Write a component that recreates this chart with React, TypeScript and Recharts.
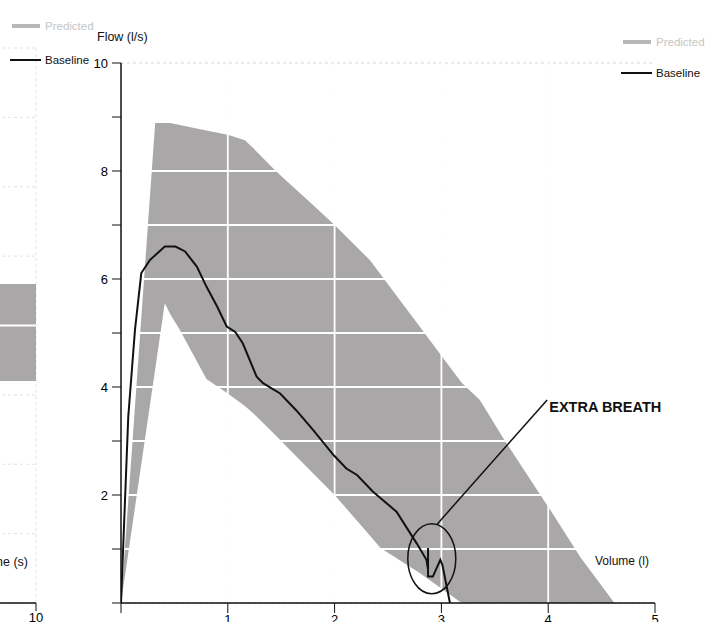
import React from "react";
import {
  ComposedChart,
  Area,
  Line,
  XAxis,
  YAxis,
  CartesianGrid,
  ReferenceLine,
  ReferenceDot,
} from "recharts";

// ─── Data ────────────────────────────────────────────────────────────────────

// predicted flow-volume band (volume in l, flow in l/s)
const bandVolume = [0, 0.32, 0.41, 0.46, 0.55, 0.8, 1.0, 1.16, 1.24, 1.44, 1.52, 1.77, 2.0, 2.33, 2.43, 2.61, 2.8, 3.0, 3.19, 3.36, 3.58, 4.02, 4.3, 4.62];
const bandLow = [0, 4.33, 5.55, 5.35, 5.06, 4.15, 3.88, 3.65, 3.51, 3.12, 2.96, 2.46, 2.0, 1.25, 1.02, 0.79, 0.55, 0.27, 0, 0, 0, 0, 0, 0];
const bandHigh = [0, 8.89, 8.89, 8.89, 8.85, 8.75, 8.67, 8.57, 8.42, 8.02, 7.87, 7.42, 7.0, 6.35, 6.09, 5.61, 5.11, 4.58, 4.08, 3.76, 3.05, 1.72, 0.85, 0];

// baseline loop
const baseVolume = [0, 0.068, 0.131, 0.19, 0.27, 0.41, 0.51, 0.6, 0.71, 0.8, 0.9, 0.99, 1.07, 1.14, 1.27, 1.33, 1.49, 1.64, 1.8, 1.99, 2.11, 2.21, 2.36, 2.58, 2.67, 2.77, 2.86, 2.875, 2.875, 2.875, 2.92, 2.99, 3.01, 3.08];
const baseFlow = [0, 3.45, 5.06, 6.11, 6.35, 6.6, 6.6, 6.51, 6.23, 5.86, 5.49, 5.12, 5.02, 4.81, 4.19, 4.07, 3.88, 3.57, 3.2, 2.74, 2.49, 2.37, 2.06, 1.69, 1.41, 1.1, 0.8, 0.62, 1.02, 0.49, 0.49, 0.8, 0.7, 0];

const flowTicks = [0, 1, 2, 3, 4, 5, 6, 7, 8, 9, 10];
const volumeTicks = [0, 1, 2, 3, 4, 5];
const gridVolume = [1, 2, 3, 4];
const innerFlowLines = [1, 2, 3, 4, 5, 6, 7, 8, 9];
const innerVolumeLines = [1, 2, 3, 4];

// annotation ("extra breath")
const breathCircle = { v: 2.91, f: 0.82 };
const pointerFrom = { v: 2.96, f: 1.46 };
const pointerTo = { v: 3.99, f: 3.76 };
const noteAt = { v: 4.01, f: 3.64 };

// neighbouring time chart (only its right edge is on the page)
const timeTicks = [0, 2, 4, 6, 8, 10];
const timeGridTicks = [0, 1, 2, 3, 4, 5, 6, 7, 8];
const timePredTime = [6, 10];
const timePredLow = [3.2, 3.2];
const timePredHigh = [4.6, 4.6];

// ─── Styling ─────────────────────────────────────────────────────────────────

const FONT = '"Liberation Sans", Arial, sans-serif';
const BAND = "#aaa7a8";
const INK = "#111";
const GRID = "#d6d6d6";

const band = bandVolume.map((v, i) => ({ v, range: [bandLow[i], bandHigh[i]] }));
const baseline = baseVolume.map((v, i) => ({ v, f: baseFlow[i] }));
const timePred = timePredTime.map((t, i) => ({ t, range: [timePredLow[i], timePredHigh[i]] }));

const tickStyle = { fill: "#000", fontSize: 13, fontFamily: FONT };

function Legend({ left, top, gap }: { left: number; top: number; gap: number }) {
  return (
    <>
      <div style={{ position: "absolute", left, top: top - 2, width: 28, height: 4, background: "#b9b7b8" }} />
      <div style={{ position: "absolute", left: left + 33, top: top - 8, fontSize: 11.5, lineHeight: "16px", color: "#c6c6c6", fontFamily: FONT }}>
        Predicted
      </div>
      <div style={{ position: "absolute", left: left - 2, top: top + gap - 1, width: 31, height: 1.5, background: INK }} />
      <div style={{ position: "absolute", left: left + 33, top: top + gap - 8, fontSize: 11.5, lineHeight: "16px", color: INK, fontFamily: FONT }}>
        Baseline
      </div>
    </>
  );
}

// ─── Component ───────────────────────────────────────────────────────────────

export default function App() {
  return (
    <div
      style={{
        position: "fixed",
        left: 0,
        top: 0,
        width: 707,
        height: 622,
        overflow: "hidden",
        background: "#fff",
        fontFamily: FONT,
      }}
    >
      {/* ── Cut-off time chart on the left ── */}
      <div style={{ position: "absolute", left: -304, top: 0 }}>
        <ComposedChart width={400} height={660} data={timePred} margin={{ top: 48, right: 60, bottom: 27, left: 0 }}>
          <CartesianGrid stroke="#e2e2e2" strokeDasharray="3 3" />
          <XAxis
            type="number"
            dataKey="t"
            domain={[0, 10]}
            ticks={timeTicks}
            tick={tickStyle}
            tickSize={8}
            height={30}
            axisLine={{ stroke: INK, strokeWidth: 1.5 }}
            tickLine={{ stroke: INK }}
          />
          <YAxis type="number" domain={[0, 8]} ticks={timeGridTicks} hide />
          <Area type="linear" dataKey="range" fill={BAND} fillOpacity={1} stroke="none" isAnimationActive={false} />
          <ReferenceLine y={4} stroke="#fff" strokeWidth={2} />
        </ComposedChart>
      </div>
      <div style={{ position: "absolute", right: 679, top: 555, fontSize: 12.5, color: INK, whiteSpace: "nowrap" }}>
        Time (s)
      </div>
      <Legend left={12} top={26} gap={34} />

      {/* ── Flow-volume chart ── */}
      <div style={{ position: "absolute", left: 0, top: 0 }}>
        <ComposedChart width={707} height={660} data={band} margin={{ top: 63, right: 52, bottom: 27, left: 61 }}>
          <CartesianGrid stroke={GRID} strokeDasharray="3 3" verticalValues={gridVolume} />
          <XAxis
            type="number"
            dataKey="v"
            domain={[0, 5]}
            ticks={volumeTicks}
            tickFormatter={(v: number) => (v === 0 ? "" : String(v))}
            tick={tickStyle}
            tickSize={10}
            height={30}
            axisLine={{ stroke: INK, strokeWidth: 1.5 }}
            tickLine={{ stroke: INK }}
            allowDataOverflow
          />
          <YAxis
            type="number"
            domain={[0, 10]}
            ticks={flowTicks}
            tickFormatter={(v: number) => (v > 0 && v % 2 === 0 ? String(v) : "")}
            tick={tickStyle}
            tickSize={9}
            tickMargin={4}
            width={60}
            axisLine={{ stroke: INK, strokeWidth: 1.5 }}
            tickLine={{ stroke: INK }}
            allowDataOverflow
          />
          <Area type="linear" dataKey="range" fill={BAND} fillOpacity={1} stroke="none" isAnimationActive={false} />
          {innerFlowLines.map((f) => (
            <ReferenceLine key={"f" + f} y={f} stroke="#fff" strokeWidth={1.8} />
          ))}
          {innerVolumeLines.map((v) => (
            <ReferenceLine key={"v" + v} x={v} stroke="#fff" strokeWidth={1.8} />
          ))}
          <Line
            data={baseline}
            type="linear"
            dataKey="f"
            stroke={INK}
            strokeWidth={2}
            dot={false}
            isAnimationActive={false}
          />
          <ReferenceLine
            segment={[
              { x: pointerFrom.v, y: pointerFrom.f },
              { x: pointerTo.v, y: pointerTo.f },
            ]}
            stroke={INK}
            strokeWidth={1.5}
          />
          <ReferenceDot
            x={breathCircle.v}
            y={breathCircle.f}
            r={1}
            shape={(p: any) => (
              <ellipse cx={p.cx} cy={p.cy} rx={24} ry={35} fill="none" stroke={INK} strokeWidth={1.5} />
            )}
          />
          <ReferenceDot
            x={noteAt.v}
            y={noteAt.f}
            r={1}
            shape={(p: any) => (
              <text x={p.cx} y={p.cy} dy="0.35em" fill={INK} fontSize={14.5} fontWeight="bold" fontFamily={FONT}>
                EXTRA BREATH
              </text>
            )}
          />
        </ComposedChart>
      </div>
      <div style={{ position: "absolute", left: 97, top: 30, fontSize: 12.5, color: INK }}>Flow (l/s)</div>
      <div style={{ position: "absolute", left: 595, top: 554, fontSize: 12, color: INK }}>Volume (l)</div>
      <Legend left={623} top={42} gap={31} />
    </div>
  );
}
